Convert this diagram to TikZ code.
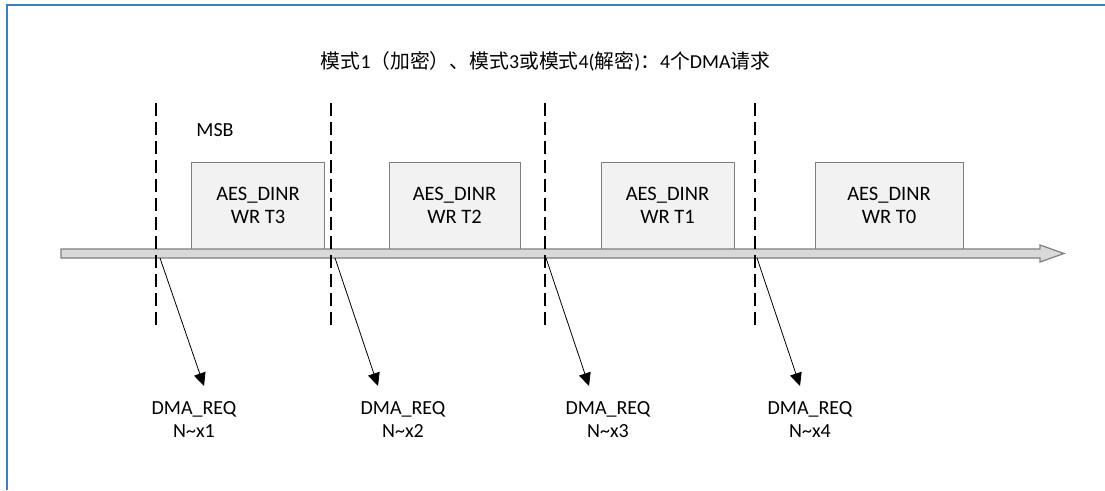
\documentclass[tikz,border=0pt]{standalone}
\usepackage{fontspec}
\setmainfont{Carlito}
\newfontfamily\cjk{Noto Sans CJK SC}
\usetikzlibrary{arrows.meta}
\definecolor{framec}{HTML}{3F7FBF}
\definecolor{boxfill}{HTML}{F2F2F2}
\definecolor{boxline}{HTML}{7F7F7F}
\definecolor{barfill}{HTML}{D9D9D9}
\tikzset{
  wbox/.style={draw=boxline, line width=1pt, fill=boxfill, minimum width=133pt, minimum height=87pt, inner sep=0pt, align=center, font=\fontsize{20.5}{22.5}\selectfont},
  reqlabel/.style={align=center, inner sep=0pt, font=\fontsize{20}{23}\selectfont},
  divline/.style={draw=black, line width=1.3pt, dash pattern=on 13pt off 6pt},
  reqarrow/.style={draw=black, line width=0.8pt, -{Triangle[length=13pt,width=12pt]}},
}
\begin{document}
\begin{tikzpicture}[x=1pt,y=-1pt]
\useasboundingbox (0,0) rectangle (1105,490);
\fill[white] (0,0) rectangle (1105,490);
% frame
\draw[framec, line width=1.5pt] (7,490) -- (7,5) -- (1105,5);
% title
\node[inner sep=0pt, font=\fontsize{19.8}{22}\selectfont] (title) at (545.5,61)
  {{\cjk 模式}1{\cjk （加密）、模式}3{\cjk 或模式}4({\cjk 解密}){\cjk ：}4{\cjk 个}DMA{\cjk 请求}};
% MSB
\node[inner sep=0pt, font=\fontsize{20}{22}\selectfont] (msb) at (215,130) {MSB};
% boxes
\node[wbox] (b1) at (258,205.5) {AES\_DINR\\WR T3};
\node[wbox, minimum width=131pt] (b2) at (454.5,205.5) {AES\_DINR\\WR T2};
\node[wbox] (b3) at (667.5,205.5) {AES\_DINR\\WR T1};
\node[wbox, minimum width=148pt] (b4) at (889,205.5) {AES\_DINR\\WR T0};
% timeline arrow
\coordinate (tl0) at (61,253.5);
\coordinate (tl1) at (1064,253.5);
\draw[boxline, line width=1.2pt, fill=barfill]
  (61,249) -- (1040,249) -- (1040,245) -- (1064,253.5) -- (1040,262) -- (1040,258) -- (61,258) -- cycle;
% dashed dividers
\coordinate (d1t) at (156,103); \coordinate (d1b) at (156,326);
\coordinate (d2t) at (331,103); \coordinate (d2b) at (331,326);
\coordinate (d3t) at (545,103); \coordinate (d3b) at (545,326);
\coordinate (d4t) at (755,103); \coordinate (d4b) at (755,326);
\draw[divline] (d1t) -- (d1b);
\draw[divline] (d2t) -- (d2b);
\draw[divline] (d3t) -- (d3b);
\draw[divline] (d4t) -- (d4b);
% request labels
\node[reqlabel] (r1) at (194,420) {DMA\_REQ\\N\textasciitilde x1};
\node[reqlabel] (r2) at (403,420) {DMA\_REQ\\N\textasciitilde x2};
\node[reqlabel] (r3) at (608,420) {DMA\_REQ\\N\textasciitilde x3};
\node[reqlabel] (r4) at (810,420) {DMA\_REQ\\N\textasciitilde x4};
% request arrows
\coordinate (s1) at (160,258); \coordinate (e1) at (204,386);
\coordinate (s2) at (335,258); \coordinate (e2) at (378,386);
\coordinate (s3) at (546,258); \coordinate (e3) at (589,386);
\coordinate (s4) at (757,258); \coordinate (e4) at (800,386);
\draw[reqarrow] (s1) -- (e1);
\draw[reqarrow] (s2) -- (e2);
\draw[reqarrow] (s3) -- (e3);
\draw[reqarrow] (s4) -- (e4);
\end{tikzpicture}
\end{document}
